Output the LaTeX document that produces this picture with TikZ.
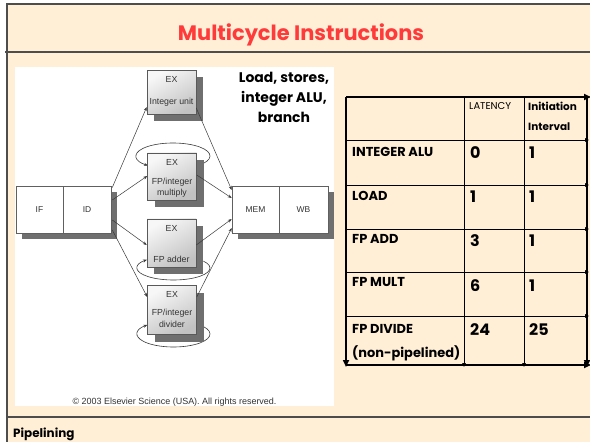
\documentclass[tikz,border=0pt]{standalone}
\usepackage{fontspec}
\setmainfont{Liberation Sans}
\newfontfamily\comicfont{Poppins}
\usetikzlibrary{arrows.meta,calc,shadows}
\definecolor{cream}{HTML}{FFEFD6}
\definecolor{titlered}{HTML}{FF3A3A}
\definecolor{framegray}{HTML}{4D4D4D}
\definecolor{shadowgray}{HTML}{6F6F6F}
\definecolor{linegray}{HTML}{3A3A3A}
\pgfdeclarelayer{back}
\pgfdeclarelayer{loops}
\pgfsetlayers{back,loops,main}
\tikzset{
  stagebox/.style={draw=gray!75!black, line width=0.6bp, fill=white, minimum height=47bp,
    inner sep=0pt, font=\fontsize{8.5}{10}\selectfont, text=black!80,
    drop shadow={shadow xshift=6bp, shadow yshift=-6bp, fill=shadowgray, opacity=1}},
  exbox/.style={draw=gray!70!black, line width=0.5bp, top color=gray!6, bottom color=gray!48,
    shading angle=30, minimum width=49bp, minimum height=47bp, inner sep=0pt,
    drop shadow={shadow xshift=7bp, shadow yshift=-7bp, fill=shadowgray, opacity=1}},
  extext/.style={font=\fontsize{8.8}{10}\selectfont, text=black!80, inner sep=0pt},
  flow/.style={draw=linegray, line width=0.5bp, -{Stealth[length=4bp,width=3bp]}},
  loopline/.style={draw=linegray, line width=0.6bp, -{Stealth[length=4bp,width=3bp]}},
  gridbold/.style={draw=black, line width=1.6bp, -{Triangle[length=7bp,width=6bp]}},
  gridthin/.style={draw=black, line width=0.8bp, -{Triangle[length=4bp,width=3.5bp]}},
  cell/.style={anchor=base west, inner sep=0pt, font=\comicfont\bfseries\fontsize{13}{15}\selectfont},
  valcell/.style={anchor=base west, inner sep=0pt, font=\comicfont\bfseries\fontsize{16}{18}\selectfont},
}
\begin{document}
\begin{tikzpicture}[x=1bp,y=-1bp]
\useasboundingbox (0,0) rectangle (590,442);
\begin{pgfonlayer}{back}
  \fill[cream] (7,4) rectangle (590,442);
  \fill[white] (15,67) rectangle (334,406);
  \draw[framegray, line width=1.3bp] (7,442) -- (7,4) -- (590,4);
  \draw[framegray, line width=1.3bp] (5,52) -- (590,52);
  \draw[framegray, line width=1.3bp] (7,417) -- (590,417);
\end{pgfonlayer}

\node[font=\comicfont\bfseries\fontsize{21}{25}\selectfont, text=titlered, anchor=base] (title) at (301,41) {Multicycle Instructions};

% pipeline stages
\node[stagebox, minimum width=47bp] (IF) at (39.5,209.5) {IF};
\node[stagebox, minimum width=48bp] (ID) at (87,209.5) {ID};
\node[stagebox, minimum width=47bp] (MEM) at (255.5,209.5) {MEM};
\node[stagebox, minimum width=49bp] (WB) at (303.5,209.5) {WB};

% EX units
\node[exbox, minimum height=44bp] (IU) at (171.5,92.5) {};
\node[exbox] (MUL) at (172,176.5) {};
\node[exbox, minimum height=48bp] (ADD) at (171.5,243) {};
\node[exbox, minimum height=49bp] (DIV) at (172,310) {};

\node[extext] (IUa) at (171.5,79) {EX};
\node[extext] (IUb) at (171.5,102) {Integer unit};
\node[extext] (MULa) at (172,162) {EX};
\node[extext] (MULb) at (172,182) {FP/integer};
\node[extext] (MULc) at (172,193) {multiply};
\node[extext] (ADDa) at (171.5,228) {EX};
\node[extext] (ADDb) at (171.5,259) {FP adder};
\node[extext] (DIVa) at (172,294) {EX};
\node[extext] (DIVb) at (172,313) {FP/integer};
\node[extext] (DIVc) at (172,324.5) {divider};

% loops
\coordinate (mulc) at ($(MUL.center)+(1,-20.5)$);
\coordinate (addc) at ($(ADD.center)+(2,25)$);
\coordinate (divc) at ($(DIV.center)+(1.5,24)$);
\begin{pgfonlayer}{loops}
  \draw[loopline] ($(mulc)+(35:37 and 13)$) arc[start angle=35, end angle=-227.6, x radius=37, y radius=13];
  \draw[loopline] ($(addc)+(-35:36.5 and 12)$) arc[start angle=-35, end angle=223.4, x radius=36.5, y radius=12];
  \draw[loopline] ($(divc)+(-35:36.5 and 13)$) arc[start angle=-35, end angle=224.3, x radius=36.5, y radius=13];
\end{pgfonlayer}

% connectors ID -> EX
\draw[flow] ($(ID.east)+(1,-22)$) -- ($(IU.west)+(0,14.5)$);
\draw[flow] ($(ID.east)+(1,-9.5)$) -- ($(MUL.west)+(0,-0.5)$);
\draw[flow] ($(ID.east)+(1,10.5)$) -- ($(ADD.west)+(0,2)$);
\draw[flow] ($(ID.east)+(1,20.5)$) -- ($(DIV.west)+(0,-13)$);
% EX -> MEM
\draw[flow] ($(IU.east)+(0,15.5)$) -- ($(MEM.west)+(0,-19.5)$);
\draw[flow] ($(MUL.east)+(0,-1.5)$) -- ($(MEM.west)+(0,-11.5)$);
\draw[flow] ($(ADD.east)+(0,2)$) -- ($(MEM.west)+(0,9.5)$);
\draw[flow] ($(DIV.east)+(0,-13)$) -- ($(MEM.west)+(0,18.5)$);

\node[font=\comicfont\bfseries\fontsize{14}{20}\selectfont, align=center, anchor=center, inner sep=0pt] (note) at (284,97)
  {Load, stores,\\ integer ALU,\\ branch};

\node[font=\fontsize{9}{11}\selectfont, text=black!80] (copy) at (174.5,402) {\textcopyright{} 2003 Elsevier Science (USA). All rights reserved.};

\node[font=\comicfont\bfseries\fontsize{12}{14}\selectfont, anchor=base west, inner sep=0pt] (pipe) at (13,437) {Pipelining};

% table grid
\coordinate (tTL) at (346,97);
\coordinate (tTR) at (591,97);
\coordinate (tBL) at (346,367);
\coordinate (tBL2) at (346,365);
\coordinate (tBR) at (591,365);
\coordinate (tRT) at (587,97);
\coordinate (tRB) at (587,367);
\coordinate (c1T) at (464,97);
\coordinate (c1B) at (464,367);
\coordinate (c2T) at (524,97);
\coordinate (c2B) at (524,367);
\foreach \yy/\nm in {140/r1,185/r2,229/r3,272/r4,316/r5}{
  \coordinate (\nm L) at (346,\yy);
  \coordinate (\nm R) at (589,\yy);
}
\draw[gridthin] (r1L) -- (r1R);
\draw[gridthin] (r2L) -- (r2R);
\draw[gridthin] (r3L) -- (r3R);
\draw[gridthin] (r4L) -- (r4R);
\draw[gridthin] (r5L) -- (r5R);
\draw[gridthin] (c1T) -- (c1B);
\draw[gridthin] (c2T) -- (c2B);
\draw[gridbold] (tTL) -- (tTR);
\draw[gridbold] (tTL) -- (tBL);
\draw[gridbold] (tRT) -- (tRB);
\draw[gridbold] (tBL2) -- (tBR);

% table text
\node[cell, font=\comicfont\fontsize{10}{12}\selectfont] (hLat) at (469,110) {LATENCY};
\node[cell, font=\comicfont\bfseries\fontsize{10.5}{12}\selectfont] (hIni) at (528,111) {Initiation};
\node[cell, font=\comicfont\bfseries\fontsize{10.5}{12}\selectfont] (hInt) at (528,131) {Interval};

\node[cell] (l1) at (352,157) {INTEGER ALU};
\node[cell] (l2) at (352,201) {LOAD};
\node[cell] (l3) at (352,244) {FP ADD};
\node[cell] (l4) at (352,287) {FP MULT};
\node[cell] (l5) at (352,333) {FP DIVIDE};
\node[cell] (l6) at (352,357) {(non-pipelined)};

\node[valcell] (v1) at (470,159) {0};
\node[valcell] (v2) at (470,203) {1};
\node[valcell] (v3) at (470,247) {3};
\node[valcell] (v4) at (470,292) {6};
\node[valcell] (v5) at (470,335) {24};
\node[valcell] (w1) at (529,159) {1};
\node[valcell] (w2) at (529,203) {1};
\node[valcell] (w3) at (529,247) {1};
\node[valcell] (w4) at (529,292) {1};
\node[valcell] (w5) at (529,335) {25};
\end{tikzpicture}
\end{document}
